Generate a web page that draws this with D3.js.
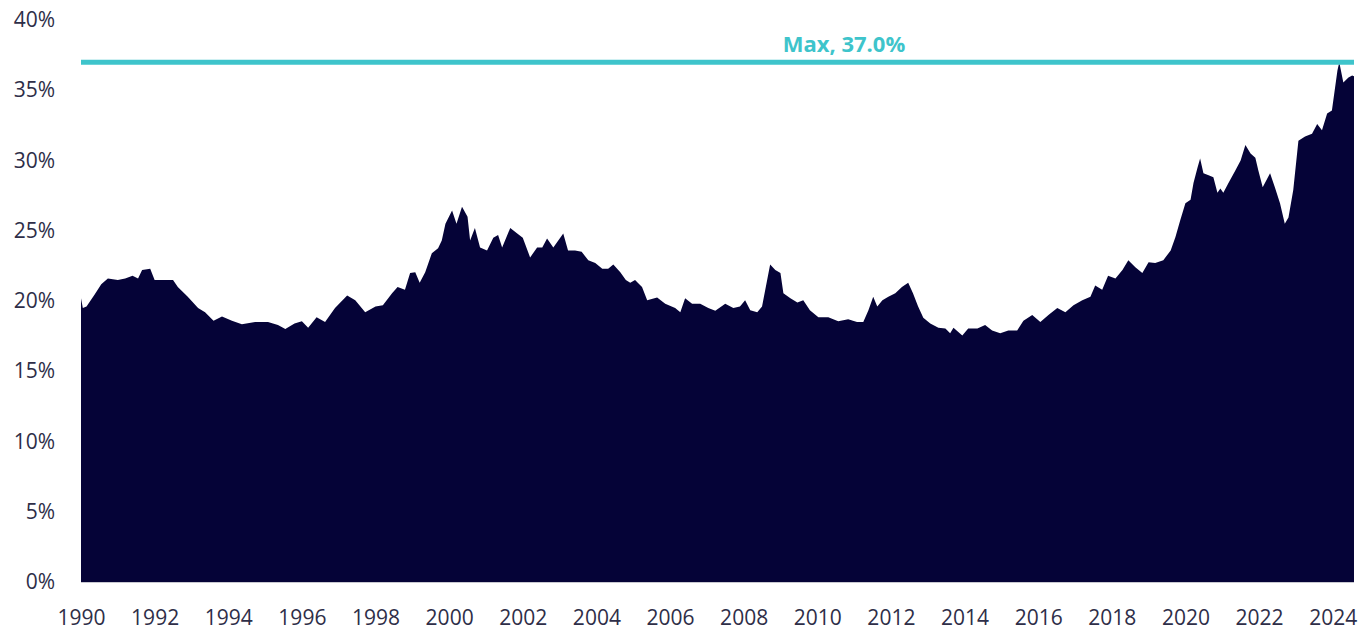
<!DOCTYPE html>
<html>
<head>
<meta charset="utf-8">
<script src="https://cdn.jsdelivr.net/npm/d3@7"></script>
<style>
	body { margin: 0; background: #ffffff; }
	.axis text { font-family: "Open Sans", sans-serif; font-size: 21px; fill: #2e2e48; }
	.axis .domain, .axis line { display: none; }
</style>
</head>
<body>
<svg width="1367" height="637"></svg>
<script>
const w = 1367;
const h = 637;
const margin = { top: 20, right: 13, bottom: 55, left: 81 };

// decimal year of each reading
const dates = [
	1990.00, 1990.05, 1990.15, 1990.38, 1990.55, 1990.73, 1991.00, 1991.20, 1991.40, 1991.55,
	1991.66, 1991.88, 1992.00, 1992.28, 1992.50, 1992.63, 1992.90, 1993.18, 1993.37, 1993.60,
	1993.83, 1994.10, 1994.37, 1994.73, 1995.08, 1995.35, 1995.55, 1995.80, 1996.00, 1996.17,
	1996.40, 1996.63, 1996.90, 1997.23, 1997.45, 1997.72, 1998.00, 1998.20, 1998.45, 1998.60,
	1998.80, 1998.94, 1999.08, 1999.20, 1999.35, 1999.53, 1999.70, 1999.80, 1999.90, 2000.08,
	2000.20, 2000.35, 2000.50, 2000.57, 2000.70, 2000.84, 2001.03, 2001.20, 2001.33, 2001.44,
	2001.66, 2001.85, 2002.00, 2002.20, 2002.39, 2002.53, 2002.66, 2002.83, 2003.10, 2003.23,
	2003.42, 2003.60, 2003.78, 2003.97, 2004.16, 2004.32, 2004.46, 2004.65, 2004.80, 2004.92,
	2005.05, 2005.24, 2005.38, 2005.65, 2005.87, 2006.14, 2006.28, 2006.41, 2006.60, 2006.82,
	2007.04, 2007.23, 2007.50, 2007.72, 2007.90, 2008.04, 2008.18, 2008.37, 2008.50, 2008.72,
	2008.86, 2009.00, 2009.08, 2009.27, 2009.46, 2009.62, 2009.80, 2010.03, 2010.30, 2010.57,
	2010.84, 2011.08, 2011.25, 2011.39, 2011.52, 2011.63, 2011.77, 2011.93, 2012.12, 2012.30,
	2012.47, 2012.60, 2012.74, 2012.88, 2013.07, 2013.29, 2013.48, 2013.61, 2013.70, 2013.94,
	2014.10, 2014.35, 2014.56, 2014.75, 2014.97, 2015.19, 2015.43, 2015.60, 2015.84, 2016.06,
	2016.28, 2016.52, 2016.74, 2016.96, 2017.20, 2017.42, 2017.55, 2017.74, 2017.90, 2018.10,
	2018.29, 2018.45, 2018.64, 2018.83, 2019.00, 2019.18, 2019.40, 2019.60, 2019.73, 2019.86,
	2020.00, 2020.14, 2020.22, 2020.33, 2020.40, 2020.49, 2020.63, 2020.76, 2020.87, 2020.95,
	2021.03, 2021.17, 2021.36, 2021.50, 2021.63, 2021.77, 2021.90, 2021.98, 2022.10, 2022.30,
	2022.43, 2022.57, 2022.70, 2022.80, 2022.93, 2023.07, 2023.25, 2023.44, 2023.58, 2023.71,
	2023.85, 2023.98, 2024.13, 2024.18, 2024.29, 2024.43, 2024.53, 2024.58
];

// share, in percent
const values = [
	20.2, 19.5, 19.6, 20.5, 21.2, 21.6, 21.5, 21.6, 21.8, 21.6,
	22.2, 22.3, 21.5, 21.5, 21.5, 21.0, 20.3, 19.5, 19.2, 18.6,
	18.9, 18.6, 18.35, 18.5, 18.5, 18.3, 18.0, 18.4, 18.55, 18.1,
	18.85, 18.5, 19.5, 20.4, 20.05, 19.2, 19.6, 19.7, 20.55, 21.0,
	20.8, 22.0, 22.05, 21.3, 22.05, 23.4, 23.75, 24.3, 25.5, 26.45,
	25.5, 26.7, 26.0, 24.3, 25.2, 23.8, 23.6, 24.5, 24.7, 23.8,
	25.2, 24.8, 24.5, 23.1, 23.8, 23.8, 24.45, 23.8, 24.8, 23.6,
	23.6, 23.5, 22.9, 22.7, 22.3, 22.3, 22.6, 22.05, 21.5, 21.3,
	21.5, 21.0, 20.05, 20.25, 19.8, 19.5, 19.2, 20.2, 19.8, 19.8,
	19.5, 19.3, 19.8, 19.5, 19.6, 20.05, 19.35, 19.2, 19.6, 22.6,
	22.2, 22.0, 20.55, 20.2, 19.9, 20.05, 19.35, 18.85, 18.85, 18.55,
	18.7, 18.5, 18.5, 19.35, 20.3, 19.6, 20.05, 20.3, 20.55, 21.0,
	21.3, 20.55, 19.6, 18.8, 18.4, 18.1, 18.05, 17.7, 18.1, 17.55,
	18.05, 18.05, 18.3, 17.9, 17.7, 17.9, 17.9, 18.6, 19.0, 18.5,
	19.0, 19.5, 19.2, 19.7, 20.05, 20.3, 21.1, 20.8, 21.8, 21.6,
	22.2, 22.9, 22.4, 22.0, 22.75, 22.7, 22.9, 23.6, 24.55, 25.75,
	26.95, 27.2, 28.4, 29.5, 30.15, 29.1, 28.95, 28.8, 27.7, 28.0,
	27.7, 28.4, 29.3, 30.0, 31.1, 30.5, 30.2, 29.3, 28.1, 29.1,
	28.1, 26.95, 25.5, 25.95, 27.9, 31.4, 31.7, 31.9, 32.6, 32.15,
	33.35, 33.55, 36.4, 37.0, 35.55, 35.9, 36.05, 36.0
];

const x_tick_labels = [1990, 1992, 1994, 1996, 1998, 2000, 2002, 2004, 2006, 2008, 2010, 2012, 2014, 2016, 2018, 2020, 2022, 2024];
const y_tick_labels = [0, 5, 10, 15, 20, 25, 30, 35, 40];
const max_value = 37.0;
const max_label = "Max, 37.0%";

const area_color = "#050337";
const max_color = "#3ec4cb";

function draw_chart() {
	const svg = d3.select("svg");
	const data = dates.map((d, i) => ({ date: d, value: values[i] }));

	const x_scale = d3.scaleLinear()
		.domain([1990, 2024.58])
		.range([margin.left, w - margin.right]);

	const y_scale = d3.scaleLinear()
		.domain([0, 40])
		.range([h - margin.bottom, margin.top]);

	const area = d3.area()
		.x((d) => x_scale(d.date))
		.y0(y_scale(0))
		.y1((d) => y_scale(d.value));

	// light baseline under the area
	svg.append("line")
		.attr("x1", x_scale(1990))
		.attr("x2", x_scale(2024.58))
		.attr("y1", y_scale(0) + 0.5)
		.attr("y2", y_scale(0) + 0.5)
		.attr("stroke", "#c8c8d0")
		.attr("stroke-width", 1);

	svg.append("path")
		.datum(data)
		.attr("d", area)
		.attr("fill", area_color);

	svg.append("g")
		.attr("class", "axis")
		.attr("transform", "translate(" + (margin.left - 26) + ", 0)")
		.call(d3.axisLeft(y_scale).tickValues(y_tick_labels).tickSize(0).tickPadding(0).tickFormat((d) => d + "%"));

	svg.append("g")
		.attr("class", "axis")
		.attr("transform", "translate(0, " + y_scale(0) + ")")
		.call(d3.axisBottom(x_scale).tickValues(x_tick_labels).tickSize(0).tickPadding(28).tickFormat(d3.format("d")));

	// max reference line
	svg.append("line")
		.attr("x1", x_scale(1990))
		.attr("x2", x_scale(2024.58))
		.attr("y1", y_scale(max_value))
		.attr("y2", y_scale(max_value))
		.attr("stroke", max_color)
		.attr("stroke-width", 5);

	svg.append("text")
		.attr("x", 844)
		.attr("y", y_scale(max_value) - 10)
		.attr("text-anchor", "middle")
		.attr("font-family", "'Open Sans', sans-serif")
		.attr("font-weight", "bold")
		.attr("font-size", "22px")
		.attr("fill", max_color)
		.text(max_label);
}

draw_chart();
</script>
</body>
</html>
